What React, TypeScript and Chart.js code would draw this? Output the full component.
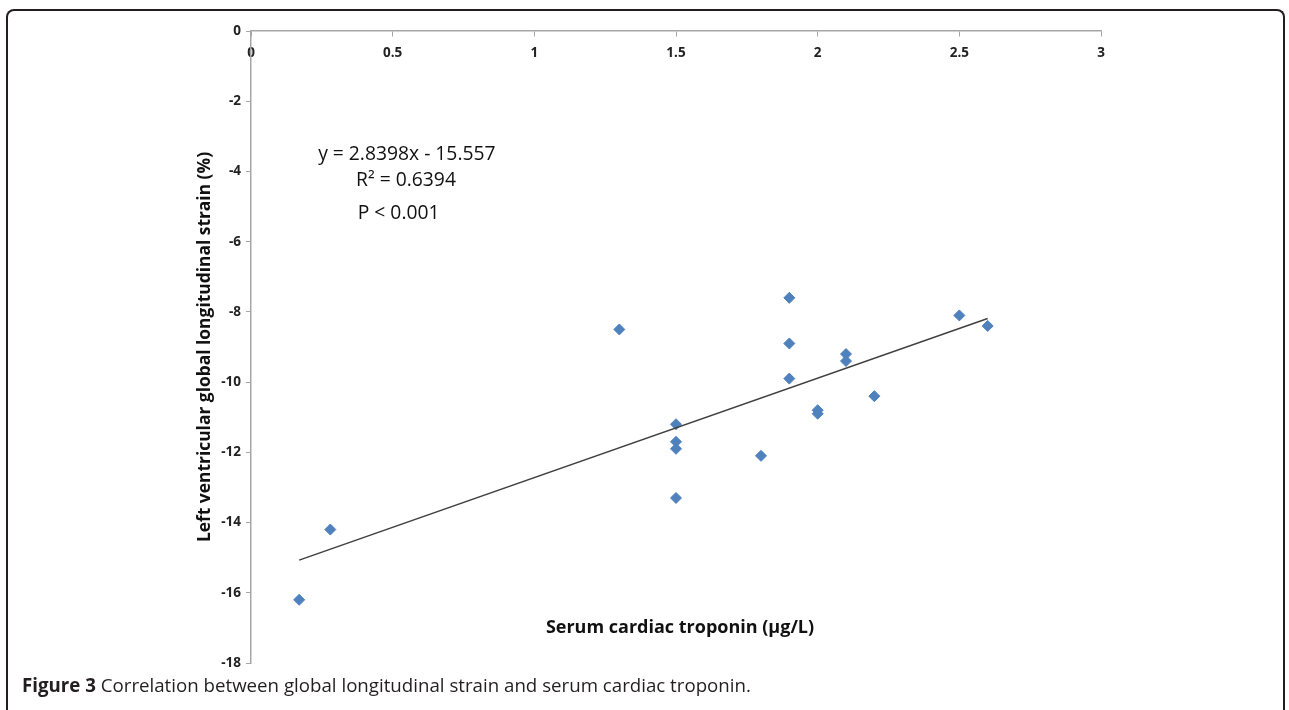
import React, { useEffect, useRef } from 'react';
import { Chart, registerables } from 'chart.js';

Chart.register(...registerables);

// ---- data ----
const troponin = [0.17, 0.28, 1.3, 1.5, 1.5, 1.5, 1.5, 1.8, 1.9, 1.9, 1.9, 2.0, 2.0, 2.1, 2.1, 2.2, 2.5, 2.6];
const strain = [-16.2, -14.2, -8.5, -11.2, -11.7, -11.9, -13.3, -12.1, -7.6, -8.9, -9.9, -10.8, -10.9, -9.2, -9.4, -10.4, -8.1, -8.4];
const trendX = [0.17, 2.6];
const trendY = [-15.07, -8.19];
const xTicks = [0, 0.5, 1, 1.5, 2, 2.5, 3];
const xTickLabels = ['0', '0.5', '1', '1.5', '2', '2.5', '3'];
const yTicks = [0, -2, -4, -6, -8, -10, -12, -14, -16, -18];
const yTickLabels = ['0', '-2', '-4', '-6', '-8', '-10', '-12', '-14', '-16', '-18'];
const annotationLines = ['y = 2.8398x - 15.557', 'R\u00B2 = 0.6394', 'P < 0.001'];
const xTitle = 'Serum cardiac troponin (\u00B5g/L)';
const yTitle = 'Left ventricular global longitudinal strain (%)';
const captionBold = 'Figure 3';
const captionText = ' Correlation between global longitudinal strain and serum cardiac troponin.';

const textPlugin = {
  id: 'textPlugin',
  afterDraw(chart: any) {
    const { ctx, chartArea, scales } = chart;
    const xs = scales.x;
    const ys = scales.y;
    ctx.save();
    ctx.fillStyle = '#111';
    ctx.textAlign = 'center';
    ctx.textBaseline = 'middle';
    ctx.font = '19.3px "Open Sans"';
    const anchors = [
      [0.55, -3.53],
      [0.547, -4.27],
      [0.521, -5.19],
    ];
    annotationLines.forEach((t, i) => {
      ctx.fillText(t, xs.getPixelForValue(anchors[i][0]), ys.getPixelForValue(anchors[i][1]));
    });
    ctx.font = 'bold 18px "Open Sans"';
    ctx.fillStyle = '#111';
    ctx.fillText(xTitle, (chartArea.left + chartArea.right) / 2 + 4, chartArea.bottom - 35);
    ctx.restore();
  },
};

export default function App() {
  const ref = useRef<HTMLCanvasElement>(null);
  useEffect(() => {
    if (!ref.current) return;
    const chart = new Chart(ref.current, {
      type: 'scatter',
      data: {
        datasets: [
          {
            label: 'trend',
            type: 'line',
            data: trendX.map((x, i) => ({ x, y: trendY[i] })),
            borderColor: '#404040',
            borderWidth: 1.5,
            pointRadius: 0,
            showLine: true,
            fill: false,
          } as any,
          {
            label: 'data',
            data: troponin.map((x, i) => ({ x, y: strain[i] })),
            pointStyle: 'rectRot',
            pointRadius: 5.5,
            pointBorderWidth: 1,
            backgroundColor: '#4F81BD',
            borderColor: '#4F81BD',
          },
        ],
      },
      options: {
        animation: false,
        responsive: true,
        maintainAspectRatio: false,
        layout: { padding: { left: 195, top: 31, right: 188, bottom: 47 } },
        plugins: { legend: { display: false }, tooltip: { enabled: false } },
        scales: {
          x: {
            type: 'linear',
            position: { y: 0 } as any,
            min: 0,
            max: 3,
            afterBuildTicks: (s: any) => {
              s.ticks = xTicks.map((v) => ({ value: v }));
            },
            ticks: {
              padding: 9,
              color: '#222',
              font: { family: 'Open Sans', size: 13.5, weight: 'bold' },
              callback: (_v: any, i: number) => xTickLabels[i],
            },
            grid: { display: true, drawOnChartArea: false, drawTicks: true, tickLength: 5, color: '#A6A6A6' },
            border: { display: true, color: '#A6A6A6', width: 1.5 },
          },
          y: {
            type: 'linear',
            position: 'left',
            min: -18,
            max: 0,
            afterBuildTicks: (s: any) => {
              s.ticks = yTicks.map((v) => ({ value: v }));
            },
            afterFit: (s: any) => {
              s.width = 56;
              s.paddingTop = 0;
              s.paddingBottom = 0;
            },
            ticks: {
              padding: 5,
              color: '#222',
              font: { family: 'Open Sans', size: 13.5, weight: 'bold' },
              callback: (_v: any, i: number) => yTickLabels[i],
            },
            grid: { display: true, drawOnChartArea: false, drawTicks: true, tickLength: 5, color: '#A6A6A6' },
            border: { display: true, color: '#A6A6A6', width: 1.5 },
            title: {
              display: true,
              text: yTitle,
              color: '#111',
              padding: { top: 0, bottom: 0 },
              font: { family: 'Open Sans', size: 17.4, weight: 'bold' },
            },
          },
        },
      },
      plugins: [textPlugin],
    });
    return () => chart.destroy();
  }, []);

  return (
    <div style={{ position: 'fixed', left: 0, top: 0, width: 1289, height: 710, overflow: 'hidden', background: '#fff' }}>
      <div
        style={{
          position: 'absolute',
          left: 6,
          top: 9,
          width: 1279,
          height: 720,
          border: '2px solid #231f20',
          borderBottom: 'none',
          borderRadius: '8px 8px 0 0',
          boxSizing: 'border-box',
        }}
      />
      <div style={{ position: 'absolute', left: 0, top: 0, width: 1289, height: 710 }}>
        <canvas ref={ref} />
      </div>
      <div
        style={{
          position: 'absolute',
          left: 22,
          top: 672,
          fontFamily: '"Open Sans", sans-serif',
          fontSize: 18.7,
          color: '#231f20',
          whiteSpace: 'nowrap',
        }}
      >
        <span style={{ fontWeight: 'bold' }}>{captionBold}</span>
        <span>{captionText}</span>
      </div>
    </div>
  );
}
